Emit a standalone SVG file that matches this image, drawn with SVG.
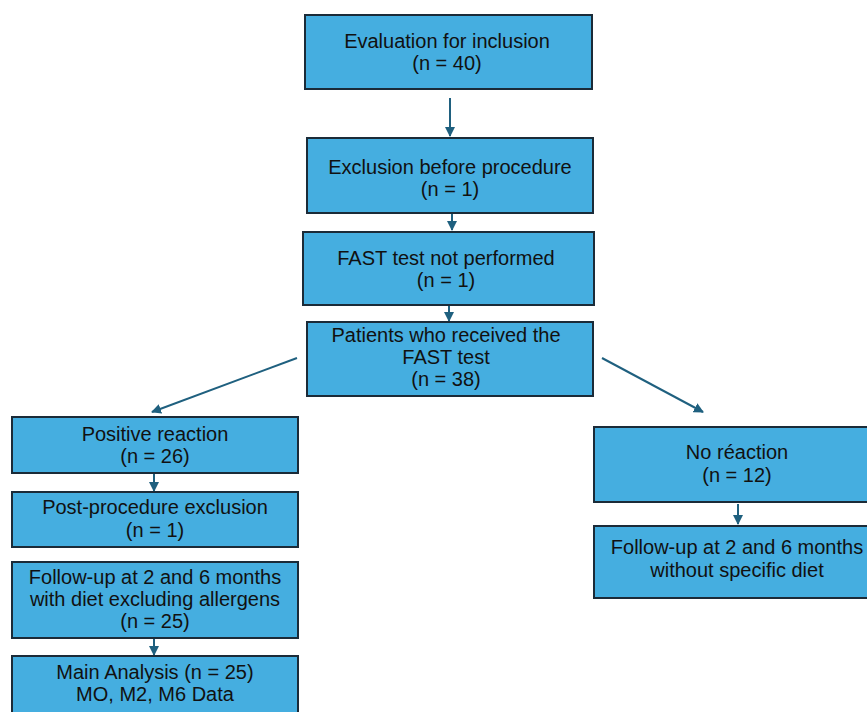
<svg xmlns="http://www.w3.org/2000/svg" width="867" height="712" viewBox="0 0 867 712">
<defs>
<style>
.box{fill:#45aee0;stroke:#1b2b38;stroke-width:2}
.t{font-family:"Liberation Sans",Arial,sans-serif;font-size:20px;fill:#111;text-anchor:middle}
.c{stroke:#1f607f;stroke-width:2;fill:none;marker-end:url(#ah)}
</style>
<marker id="ah" viewBox="0 0 10 10" refX="9" refY="5" markerWidth="5" markerHeight="5" orient="auto" markerUnits="strokeWidth">
<path d="M0,0 L10,5 L0,10 z" fill="#1f607f"/>
</marker>
</defs>
<rect width="867" height="712" fill="#ffffff"/>
<g id="connectors">
<line class="c" x1="450" y1="98" x2="450" y2="136"/>
<line class="c" x1="452" y1="213" x2="452" y2="230"/>
<line class="c" x1="449" y1="305" x2="449" y2="321"/>
<line class="c" x1="297" y1="358" x2="152" y2="412"/>
<line class="c" x1="602" y1="358" x2="703" y2="412"/>
<line class="c" x1="154" y1="473" x2="154" y2="491"/>
<line class="c" x1="154" y1="638" x2="154" y2="655"/>
<line class="c" x1="738" y1="504" x2="738" y2="524"/>
</g>
<g id="n1">
<rect class="box" x="305" y="15" width="287" height="74"/>
<text class="t" x="447" y="48">Evaluation for inclusion</text>
<text class="t" x="447" y="70">(n = 40)</text>
</g>
<g id="n2">
<rect class="box" x="307" y="138" width="286" height="75"/>
<text class="t" x="450" y="174">Exclusion before procedure</text>
<text class="t" x="450" y="196">(n = 1)</text>
</g>
<g id="n3">
<rect class="box" x="303" y="232" width="291" height="73"/>
<text class="t" x="446" y="265">FAST test not performed</text>
<text class="t" x="446" y="287">(n = 1)</text>
</g>
<g id="n4">
<rect class="box" x="307" y="322" width="286" height="74"/>
<text class="t" x="446" y="342">Patients who received the</text>
<text class="t" x="446" y="364">FAST test</text>
<text class="t" x="446" y="386">(n = 38)</text>
</g>
<g id="n5">
<rect class="box" x="12" y="417" width="286" height="56"/>
<text class="t" x="155" y="441">Positive reaction</text>
<text class="t" x="155" y="463">(n = 26)</text>
</g>
<g id="n6">
<rect class="box" x="12" y="492" width="286" height="55"/>
<text class="t" x="155" y="514">Post-procedure exclusion</text>
<text class="t" x="155" y="537">(n = 1)</text>
</g>
<g id="n7">
<rect class="box" x="12" y="562" width="286" height="76"/>
<text class="t" x="155" y="584">Follow-up at 2 and 6 months</text>
<text class="t" x="155" y="606">with diet excluding allergens</text>
<text class="t" x="155" y="628">(n = 25)</text>
</g>
<g id="n8">
<rect class="box" x="12" y="656" width="286" height="62"/>
<text class="t" x="155" y="679">Main Analysis (n = 25)</text>
<text class="t" x="155" y="701">MO, M2, M6 Data</text>
</g>
<g id="n9">
<rect class="box" x="594" y="427" width="290" height="75"/>
<text class="t" x="737" y="459">No réaction</text>
<text class="t" x="737" y="482">(n = 12)</text>
</g>
<g id="n10">
<rect class="box" x="594" y="526" width="290" height="72"/>
<text class="t" x="737" y="554">Follow-up at 2 and 6 months</text>
<text class="t" x="737" y="577">without specific diet</text>
</g>
</svg>
